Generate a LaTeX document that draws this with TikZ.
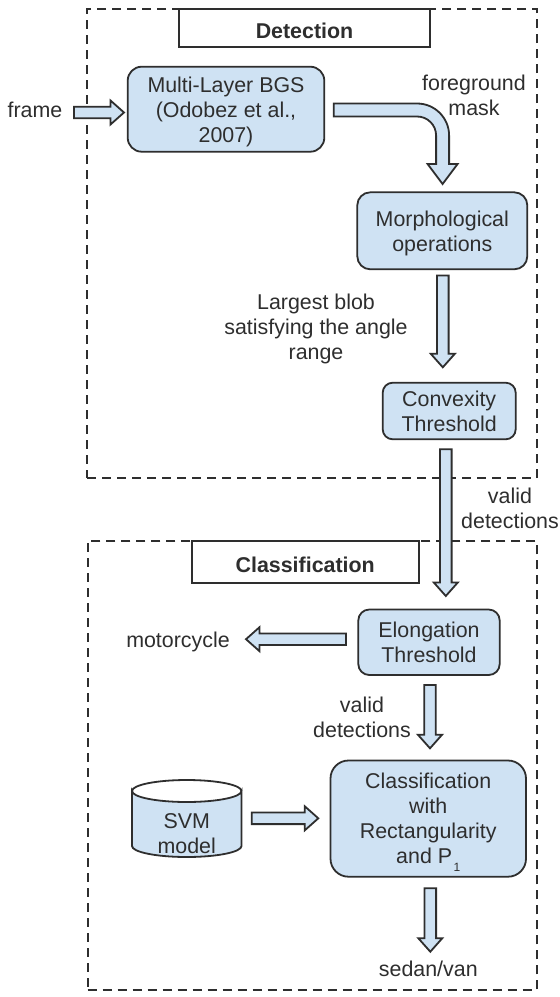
\documentclass[tikz,border=0pt]{standalone}
\usepackage{fontspec}
\setmainfont{Liberation Sans}
\usetikzlibrary{calc}
\definecolor{boxfill}{HTML}{CFE2F3}
\definecolor{ink}{HTML}{2E2E2E}
\newcommand\btext[2][2.8pt]{\raisebox{-#1}[\height][\depth]{\begin{tabular}{@{}c@{}}#2\end{tabular}}}
\newcommand\fatarrow[2]{%
  \path ($(#2)!13.5pt!(#1)$) coordinate (fah);
  \draw[fatarrowstyle] ($(#1)!5.8pt!90:(#2)$) -- ($(fah)!5.8pt!90:(#2)$) -- ($(fah)!12pt!90:(#2)$) -- (#2)
     -- ($(fah)!12pt!-90:(#2)$) -- ($(fah)!5.8pt!-90:(#2)$) -- ($(#1)!5.8pt!-90:(#2)$) -- cycle;
}
\tikzset{
  every node/.style={font=\fontsize{21.4}{25}\selectfont, text=ink},
  procbox/.style={draw=ink, fill=boxfill, line width=1.8pt, inner sep=0pt},
  titlebox/.style={draw=ink, fill=white, line width=1.8pt, inner sep=0pt, font=\fontsize{21.4}{25}\selectfont\bfseries},
  groupbox/.style={draw=ink, dash pattern=on 9pt off 6pt, line width=1.7pt, inner sep=0pt},
  lbl/.style={inner sep=0pt, anchor=north},
  fatarrowstyle/.style={draw=ink, fill=boxfill, line width=1.8pt, line join=miter},
}
\begin{document}
\begin{tikzpicture}[x=1pt,y=-1pt]
\useasboundingbox (0,0) rectangle (560,997);
\fill[white] (0,0) rectangle (560,997);

% group frames
\node[groupbox, minimum width=449.7pt, minimum height=469.3pt] (detgroup) at (312.15,243.65) {};
\node[groupbox, minimum width=449.3pt, minimum height=449pt] (clsgroup) at (312.35,765.5) {};

% titles
\node[titlebox, minimum width=251pt, minimum height=38.3pt] (dettitle) at (304.5,28.15) {\btext[5.8pt]{Detection}};
\node[titlebox, minimum width=227pt, minimum height=41.7pt] (clstitle) at (305.2,561.85) {\btext[5.8pt]{Classification}};

% process boxes
\node[procbox, rounded corners=14pt, minimum width=196.6pt, minimum height=85pt] (bgs) at (226,109.2) {\btext{Multi-Layer BGS\\(Odobez et al.,\\2007)}};
\node[procbox, rounded corners=13pt, minimum width=170pt, minimum height=77pt] (morph) at (442.3,230.8) {\btext{Morphological\\operations}};
\node[procbox, rounded corners=10pt, minimum width=133pt, minimum height=56.6pt] (convex) at (449.2,411) {\btext{Convexity\\Threshold}};
\node[procbox, rounded corners=11pt, minimum width=141.4pt, minimum height=65.5pt] (elong) at (429,642.25) {\btext{Elongation\\Threshold}};
\node[procbox, rounded corners=18pt, minimum width=195.5pt, minimum height=116.2pt] (classify) at (428.25,818.6) {\btext{Classification\\with\\Rectangularity\\and P\kern1.5pt{\fontsize{12}{12}\selectfont\raisebox{-7.8pt}{1}}}};

% SVM cylinder
\filldraw[fill=boxfill, draw=ink, line width=1.8pt] (132,791) -- (132,846) arc (180:0:54.75 and 11) -- (241.5,791) arc (0:180:54.75 and 11) -- cycle;
\draw[ink, line width=1.8pt] (132,791) arc (180:360:54.75 and 11);
\node[lbl] (svm) at (186.7,810.8) {\btext[0pt]{SVM\\model}};

% labels
\node[lbl] (frame) at (35,99.5) {\btext[0pt]{frame}};
\node[lbl] (fgmask) at (474,73.2) {\btext[0pt]{foreground\\mask}};
\node[lbl] (largest) at (316,291.5) {\btext[0pt]{Largest blob\\satisfying the angle\\range}};
\node[lbl] (valid1) at (510,485.8) {\btext[0pt]{valid\\detections}};
\node[lbl] (motor) at (178,629.8) {\btext[0pt]{motorcycle}};
\node[lbl] (valid2) at (362,694.8) {\btext[0pt]{valid\\detections}};
\node[lbl] (sedan) at (428.3,959.2) {\btext[0pt]{sedan/van}};

% arrow end points
\coordinate (frameA) at (74,112.5);
\coordinate (frameB) at (124,112.5);
\coordinate (morphA) at (442.8,275.5);
\coordinate (morphB) at (442.8,367.3);
\coordinate (convA) at (445.8,449.3);
\coordinate (convB) at (445.8,596);
\coordinate (motA) at (346,639.2);
\coordinate (motB) at (246,639.2);
\coordinate (elA) at (430,685);
\coordinate (elB) at (430,748.3);
\coordinate (svmA) at (251.7,818.3);
\coordinate (svmB) at (318.3,818.3);
\coordinate (clA) at (430.3,888.3);
\coordinate (clB) at (430.3,951.7);

\fatarrow{frameA}{frameB}
\fatarrow{morphA}{morphB}
\fatarrow{convA}{convB}
\fatarrow{motA}{motB}
\fatarrow{elA}{elB}
\fatarrow{svmA}{svmB}
\fatarrow{clA}{clB}

% curved arrow: BGS -> Morphological
\draw[fatarrowstyle] (333.8,103.5) -- (417.1,103.5) .. controls (434.77,103.5) and (449.1,117.83) .. (449.1,135.5)
  -- (449.1,164) -- (457.6,164) -- (442.6,184) -- (427.6,164) -- (436.1,164) -- (436.1,135.5)
  .. controls (436.1,125.01) and (427.59,116.5) .. (417.1,116.5) -- (333.8,116.5) -- cycle;
\end{tikzpicture}
\end{document}
